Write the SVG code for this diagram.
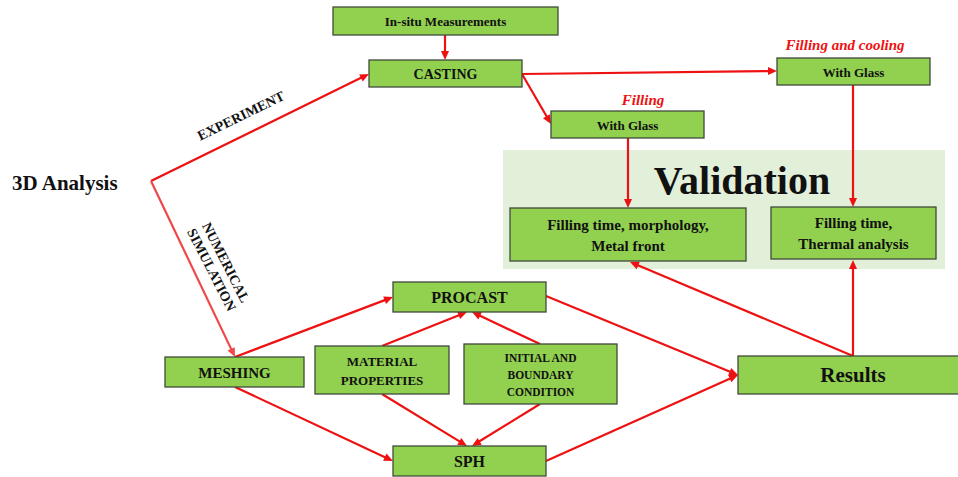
<svg xmlns="http://www.w3.org/2000/svg" width="958" height="477" viewBox="0 0 958 477">
  <rect width="958" height="477" fill="#ffffff"/>

  <!-- validation panel -->
  <rect id="validation-panel" x="503" y="150" width="442" height="119" fill="#e2efd9"/>
  <text font-family="Liberation Serif" font-weight="bold" fill="#111" text-anchor="middle" x="742" y="194" font-size="40">Validation</text>

  <!-- connectors: shafts, then arrowheads -->
  <g id="connectors">
    <g stroke="#ee1111" stroke-width="2.2" fill="none">
      <line x1="445" y1="35" x2="445" y2="54"/>
      <line x1="151" y1="181" x2="363.6" y2="76.6"/>
      <line x1="151" y1="181" x2="232.4" y2="351.6" stroke="#f04848"/>
      <line x1="522" y1="74" x2="771" y2="71.1"/>
      <line x1="522" y1="74" x2="548" y2="118.8"/>
      <line x1="628" y1="138" x2="628" y2="202"/>
      <line x1="853" y1="85" x2="853" y2="201"/>
      <line x1="235" y1="357" x2="387.4" y2="299.1"/>
      <line x1="235" y1="387" x2="387.6" y2="458.5"/>
      <line x1="382" y1="346" x2="461.4" y2="314.2"/>
      <line x1="540" y1="344" x2="477.4" y2="314.6"/>
      <line x1="382" y1="394" x2="461.9" y2="442.9"/>
      <line x1="540" y1="404" x2="477.1" y2="442.8"/>
      <line x1="546" y1="296" x2="732.5" y2="372.7"/>
      <line x1="546" y1="461" x2="732.5" y2="377.5"/>
      <line x1="853" y1="356" x2="853" y2="266"/>
      <line x1="853" y1="356" x2="635.5" y2="264.3"/>
    </g>
    <g fill="#ee1111">
      <polygon points="445,60 441,51 449,51"/>
      <polygon points="369,74 362.7,81.6 359.2,74.4"/>
      <polygon points="235,357 227.5,350.6 234.7,347.2" fill="#f04848"/>
      <polygon points="777,71 768,75.1 768,67.1"/>
      <polygon points="551,124 543,118.2 549.9,114.2"/>
      <polygon points="628,208 624,199 632,199"/>
      <polygon points="853,207 849,198 857,198"/>
      <polygon points="393,297 386,303.9 383.2,296.5"/>
      <polygon points="393,461 383.1,460.8 386.5,453.6"/>
      <polygon points="467,312 460.1,319 457.1,311.6"/>
      <polygon points="472,312 481.8,312.2 478.4,319.4"/>
      <polygon points="467,446 457.2,444.7 461.4,437.9"/>
      <polygon points="472,446 477.6,437.9 481.8,444.7"/>
      <polygon points="738,375 728.2,375.3 731.2,367.9"/>
      <polygon points="738,375 731.4,382.3 728.2,375"/>
      <polygon points="853,260 849,269 857,269"/>
      <polygon points="630,262 639.8,261.8 636.7,269.2"/>
    </g>
  </g>

  <!-- start label and branch labels -->
  <g id="start">
    <text font-family="Liberation Serif" font-weight="bold" fill="#111" x="12" y="190" font-size="21">3D Analysis</text>
  </g>
  <text font-family="Liberation Serif" font-weight="bold" fill="#111" text-anchor="middle" x="243" y="120" font-size="14" transform="rotate(-26 243 120)">EXPERIMENT</text>
  <g transform="translate(219 266) rotate(63)">
    <text font-family="Liberation Serif" font-weight="bold" fill="#111" text-anchor="middle" x="0" y="-3" font-size="14">NUMERICAL</text>
    <text font-family="Liberation Serif" font-weight="bold" fill="#111" text-anchor="middle" x="0" y="13" font-size="14">SIMULATION</text>
  </g>

  <!-- process boxes: shared fill and outline set on the group -->
  <g fill="#92d050" stroke="#3f4b3a" stroke-width="1.3">
    <rect id="insitu-box" x="333" y="7" width="225" height="28"/>
    <rect id="casting-box" x="369" y="60" width="153" height="27"/>
    <rect id="glass-cooling-box" x="777" y="58" width="153" height="27"/>
    <rect id="glass-filling-box" x="551" y="111" width="153" height="27"/>
    <rect id="morphology-box" x="510" y="208" width="236" height="53"/>
    <rect id="thermal-box" x="771" y="207" width="165" height="52"/>
    <rect id="meshing-box" x="165" y="357" width="139" height="30"/>
    <rect id="procast-box" x="393" y="282" width="153" height="30"/>
    <rect id="material-box" x="315" y="346" width="134" height="48"/>
    <rect id="initial-box" x="464" y="344" width="153" height="60"/>
    <rect id="sph-box" x="393" y="446" width="153" height="30"/>
    <rect id="results-box" x="738" y="356" width="222" height="38"/>
  </g>

  <g id="insitu">
    <text font-family="Liberation Serif" font-weight="bold" fill="#111" text-anchor="middle" x="445.5" y="26" font-size="13">In-situ  Measurements</text>
  </g>
  <g id="casting">
    <text font-family="Liberation Serif" font-weight="bold" fill="#111" text-anchor="middle" x="445.5" y="79" font-size="14">CASTING</text>
  </g>
  <g id="glass-cooling">
    <text font-family="Liberation Serif" font-weight="bold" font-style="italic" fill="#ee1111" text-anchor="middle" x="845" y="50" font-size="15">Filling and cooling</text>
    <text font-family="Liberation Serif" font-weight="bold" fill="#111" text-anchor="middle" x="853.5" y="77" font-size="13">With  Glass</text>
  </g>
  <g id="glass-filling">
    <text font-family="Liberation Serif" font-weight="bold" font-style="italic" fill="#ee1111" text-anchor="middle" x="643" y="105" font-size="15">Filling</text>
    <text font-family="Liberation Serif" font-weight="bold" fill="#111" text-anchor="middle" x="627.5" y="130" font-size="13">With  Glass</text>
  </g>
  <g id="morphology">
    <text font-family="Liberation Serif" font-weight="bold" fill="#111" text-anchor="middle" x="628" y="230" font-size="15">Filling time, morphology,</text>
    <text font-family="Liberation Serif" font-weight="bold" fill="#111" text-anchor="middle" x="628" y="251" font-size="15">Metal front</text>
  </g>
  <g id="thermal">
    <text font-family="Liberation Serif" font-weight="bold" fill="#111" text-anchor="middle" x="853.5" y="228" font-size="15">Filling time,</text>
    <text font-family="Liberation Serif" font-weight="bold" fill="#111" text-anchor="middle" x="853.5" y="249" font-size="15">Thermal analysis</text>
  </g>
  <g id="meshing">
    <text font-family="Liberation Serif" font-weight="bold" fill="#111" text-anchor="middle" x="234.5" y="378" font-size="15">MESHING</text>
  </g>
  <g id="procast">
    <text font-family="Liberation Serif" font-weight="bold" fill="#111" text-anchor="middle" x="469.5" y="303" font-size="16">PROCAST</text>
  </g>
  <g id="material">
    <text font-family="Liberation Serif" font-weight="bold" fill="#111" text-anchor="middle" x="382" y="366" font-size="13">MATERIAL</text>
    <text font-family="Liberation Serif" font-weight="bold" fill="#111" text-anchor="middle" x="382" y="385" font-size="13">PROPERTIES</text>
  </g>
  <g id="initial">
    <text font-family="Liberation Serif" font-weight="bold" fill="#111" text-anchor="middle" x="540.5" y="362" font-size="11.5">INITIAL AND</text>
    <text font-family="Liberation Serif" font-weight="bold" fill="#111" text-anchor="middle" x="540.5" y="379" font-size="11.5">BOUNDARY</text>
    <text font-family="Liberation Serif" font-weight="bold" fill="#111" text-anchor="middle" x="540.5" y="396" font-size="11.5">CONDITION</text>
  </g>
  <g id="sph">
    <text font-family="Liberation Serif" font-weight="bold" fill="#111" text-anchor="middle" x="469.5" y="467" font-size="16">SPH</text>
  </g>
  <g id="results">
    <text font-family="Liberation Serif" font-weight="bold" fill="#111" text-anchor="middle" x="853" y="382" font-size="21">Results</text>
  </g>
</svg>
